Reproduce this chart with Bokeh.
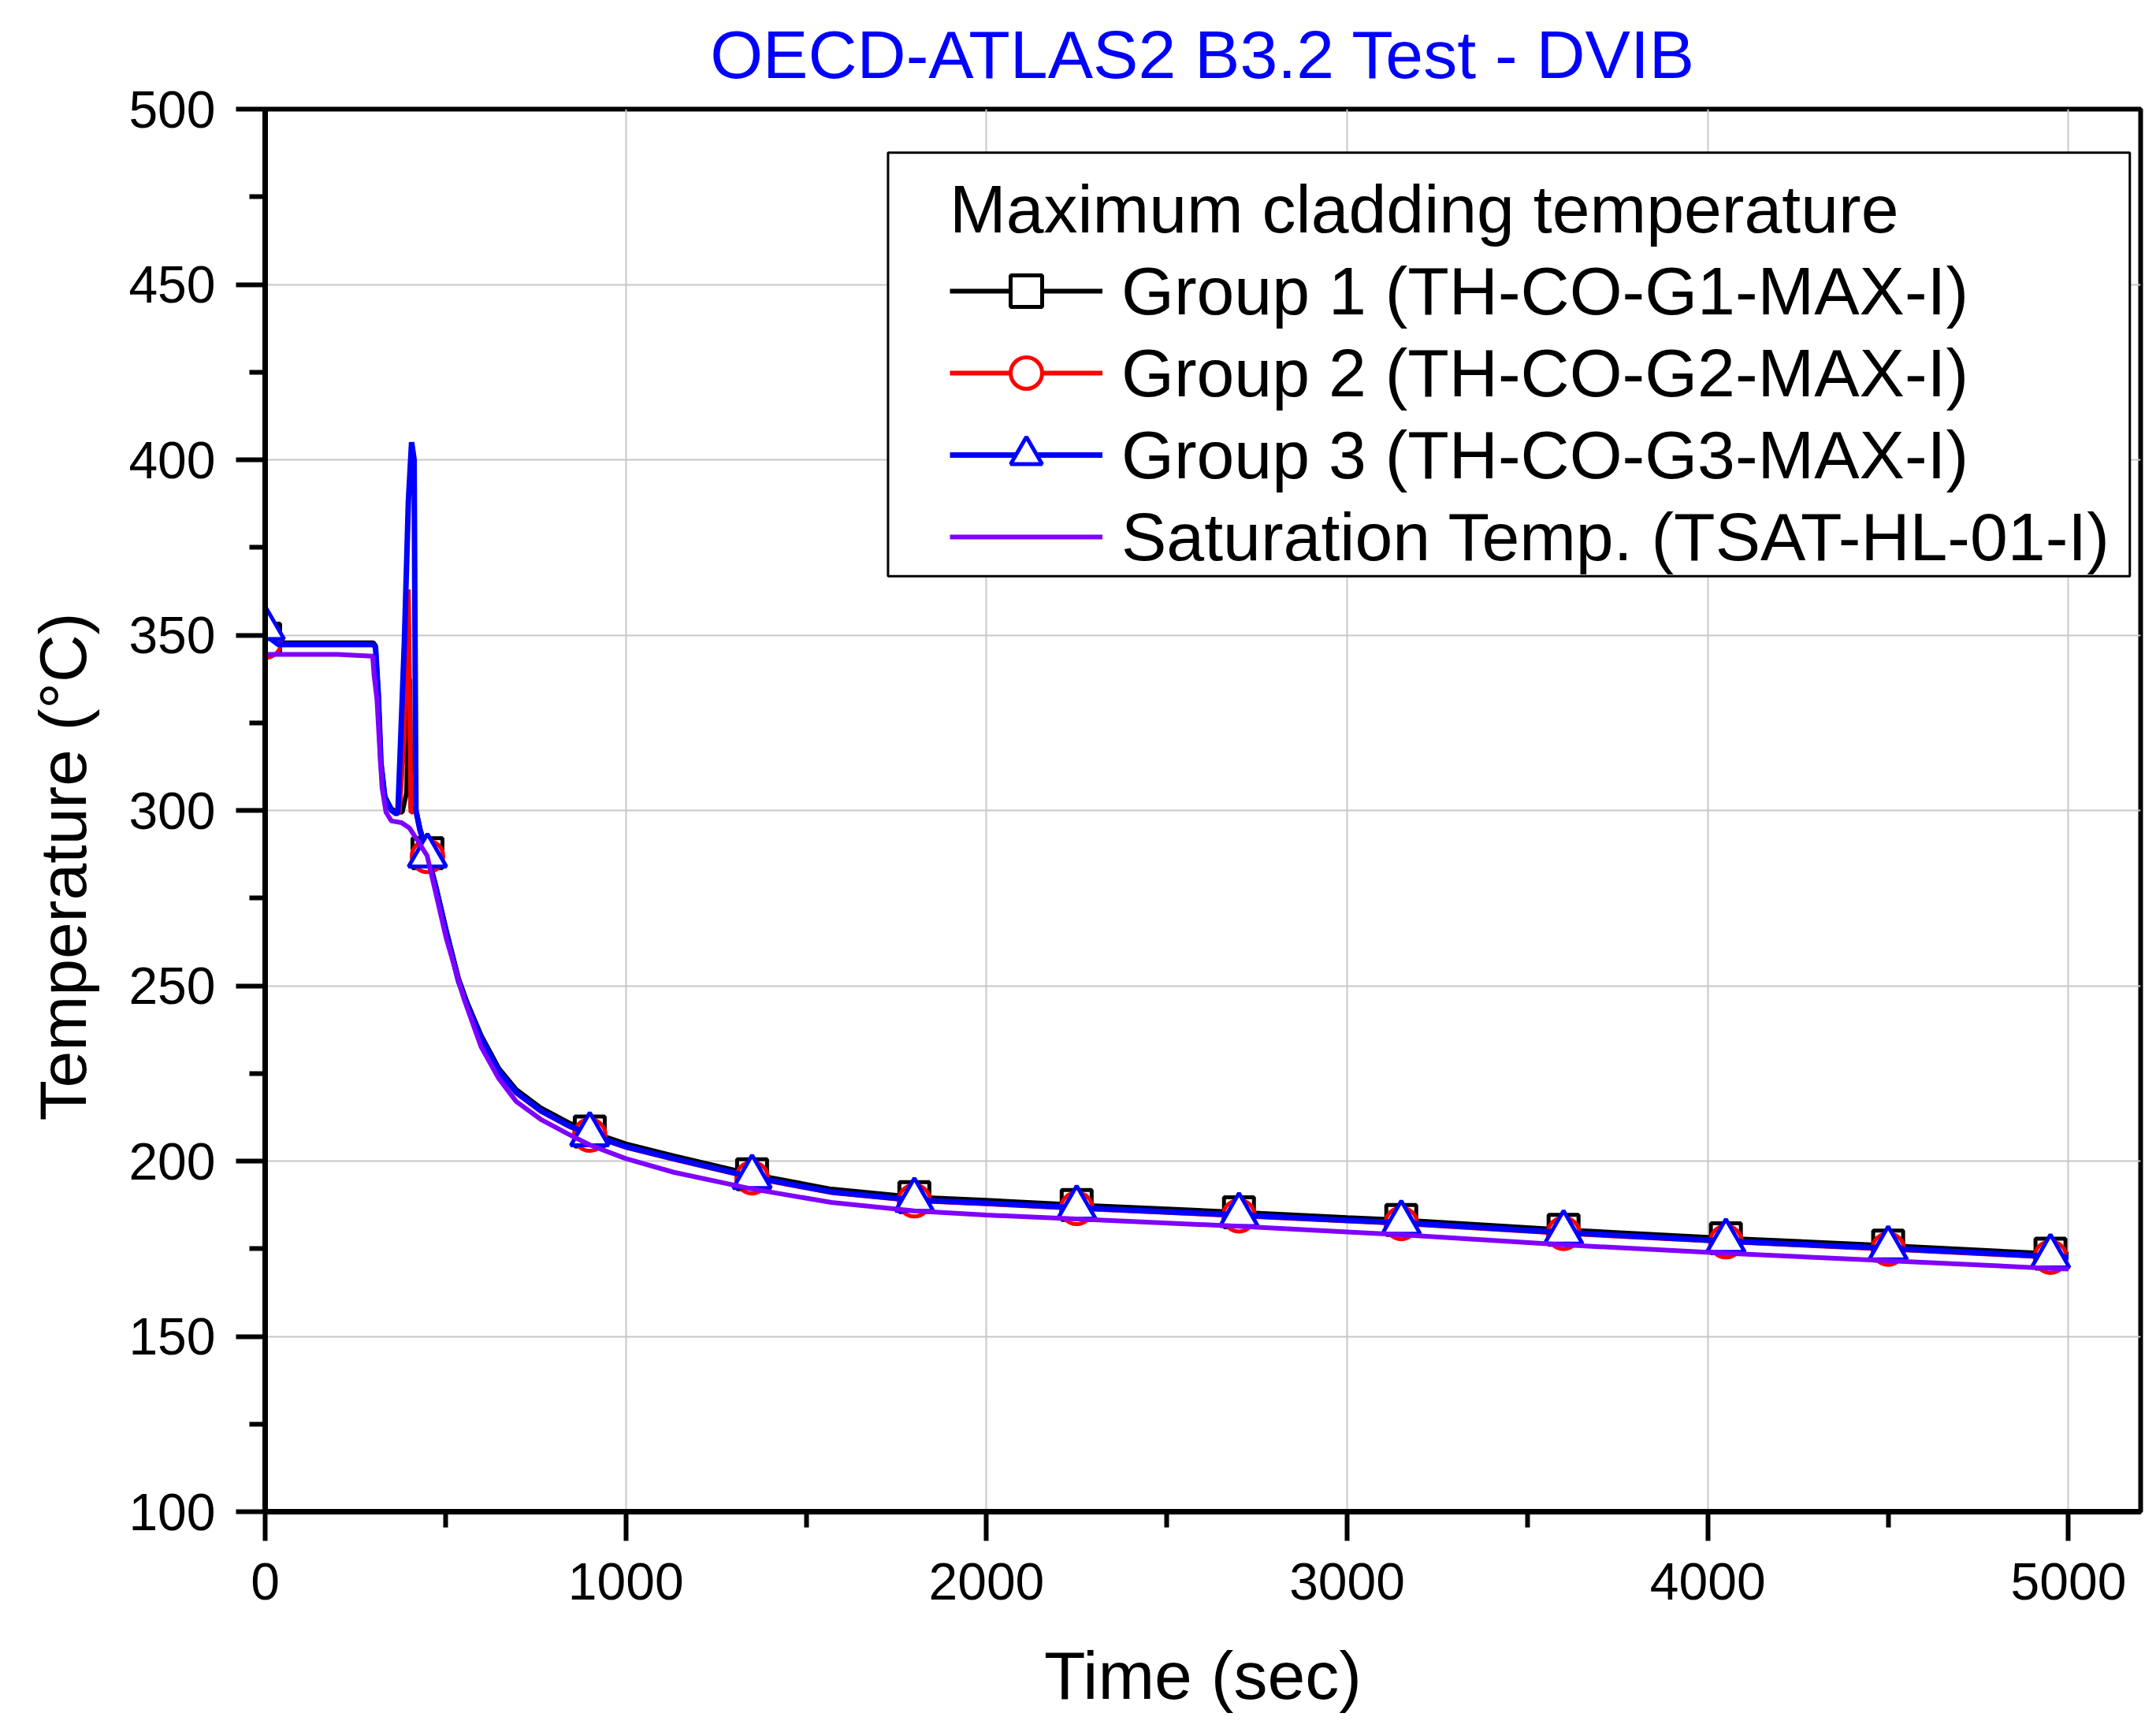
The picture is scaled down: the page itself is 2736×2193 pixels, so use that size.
import numpy as np
from bokeh.plotting import figure
from bokeh.models import Legend, LegendItem, Range1d, FixedTicker, Title, BoxAnnotation
from bokeh.embed import file_html
from bokeh.resources import INLINE

# ---------------- data ----------------
title_text = "OECD-ATLAS2 B3.2 Test - DVIB"
x_label = "Time (sec)"
y_label = "Temperature (°C)"
legend_title = "Maximum cladding temperature"
series_labels = [
    "Group 1 (TH-CO-G1-MAX-I)",
    "Group 2 (TH-CO-G2-MAX-I)",
    "Group 3 (TH-CO-G3-MAX-I)",
    "Saturation Temp. (TSAT-HL-01-I)",
]

x_ticks = [0, 1000, 2000, 3000, 4000, 5000]
x_minor = [500, 1500, 2500, 3500, 4500]
y_ticks = [100, 150, 200, 250, 300, 350, 400, 450, 500]
y_minor = [125, 175, 225, 275, 325, 375, 425, 475]

# Group 1 (black)
g1_t = [0, 15, 37, 100, 200, 300, 306, 314, 321, 332, 350, 364, 380, 392, 398, 401, 404, 418,
        429, 449, 473, 502, 536, 560, 599, 648, 696, 764, 842, 900, 1000, 1133, 1347, 1570,
        1800, 2000, 2250, 2700, 3000, 3150, 3600, 4050, 4500, 4950, 5000]
g1_T = [349, 348, 347.8, 347.8, 347.8, 347.8, 347, 333, 314, 304, 300.5, 299.5, 299.5, 305, 330,
        337.5, 300.5, 300.3, 295, 288.2, 278.7, 266, 252.2, 245.3, 235.8, 226.4, 220.4, 215.2,
        210.9, 208.4, 204.9, 201.5, 196.3, 192, 189.7, 188.8, 187.5, 185.4, 183.9, 183.2, 180.4,
        178, 175.9, 173.6, 173.4]

# Group 2 (red)
g2_t = [0, 15, 37, 100, 200, 300, 306, 314, 321, 332, 350, 364, 372, 385, 393, 397, 401, 404,
        418, 429, 449, 473, 502, 536, 560, 599, 648, 696, 764, 842, 900, 1000, 1133, 1347, 1570,
        1800, 2000, 2250, 2700, 3000, 3150, 3600, 4050, 4500, 4950, 5000]
g2_T = [348, 347.5, 347.3, 347.3, 347.3, 347.3, 346.5, 332.5, 313.5, 303.5, 300, 299, 299.5, 320,
        350, 363, 330, 299.5, 299.8, 294.3, 287.3, 277.8, 265, 251.2, 244.3, 234.8, 225.4, 219.4,
        214.2, 209.9, 207.4, 203.9, 200.5, 195.3, 191, 188.7, 187.8, 186.5, 184.4, 182.9, 182.2,
        179.4, 177, 174.9, 172.6, 172.4]

# Group 3 (blue)
g3_t = [0, 15, 37, 100, 200, 300, 306, 314, 321, 332, 350, 364, 368, 386, 397, 406, 413, 418,
        429, 449, 473, 502, 536, 560, 599, 648, 696, 764, 842, 900, 1000, 1133, 1347, 1570,
        1800, 2000, 2250, 2700, 3000, 3150, 3600, 4050, 4500, 4950, 5000]
g3_T = [352, 349, 347.3, 347.3, 347.3, 347.3, 346.5, 332.5, 313.5, 303.5, 300, 299, 299.5, 348,
        388, 405, 400, 300, 294.5, 287.5, 278, 265.2, 251.4, 244.5, 235, 225.6, 219.6, 214.4,
        210.1, 207.6, 204.1, 200.7, 195.5, 191.2, 188.9, 188, 186.7, 184.6, 183.1, 182.4, 179.6,
        177.2, 175.1, 172.8, 172.6]

# Saturation temperature (violet)
sat_t = [0, 100, 200, 298, 302, 310, 317, 324, 335, 350, 378, 400, 422, 449, 502, 551, 599, 648,
         696, 764, 842, 900, 1000, 1133, 1347, 1570, 1800, 2000, 2250, 2700, 3000, 3150, 3600,
         4050, 4500, 4950, 5000]
sat_T = [344.5, 344.5, 344.5, 344, 338.5, 331.5, 318.5, 306.5, 299.5, 297, 296.5, 295, 291.5,
         287.1, 263.5, 246.3, 232.5, 223.5, 217, 211.9, 207.6, 204.6, 200.7, 196.8, 192.1, 188.2,
         185.8, 184.6, 183.5, 181.4, 179.8, 179.0, 176.1, 173.7, 171.6, 169.4, 169.2]

# symbol positions (every 450 s, as in the reference)
marker_t = [0, 450, 900, 1350, 1800, 2250, 2700, 3150, 3600, 4050, 4500, 4950]

# ---------------- figure ----------------
FONT = "Liberation Sans"
W, H = 2720, 2177
FR_L, FR_T, FR_R, FR_B = 335, 138, 2716, 1918   # frame edges in canvas px
p = figure(width=W, height=H, output_backend="svg", toolbar_location=None,
           x_range=Range1d(0, 5200), y_range=Range1d(100, 500),
           min_border_left=FR_L, min_border_right=W - FR_R, min_border_top=FR_T,
           min_border_bottom=H - FR_B)
p.background_fill_color = "white"
p.border_fill_color = "white"
p.outline_line_color = "black"
p.outline_line_width = 6

p.title.text = title_text
p.title.align = "center"
p.title.vertical_align = "top"
p.title.text_font = FONT
p.title.text_font_size = "86px"
p.title.text_font_style = "normal"
p.title.text_color = "#0000FF"
p.title.standoff = 40

p.xaxis.ticker = FixedTicker(ticks=x_ticks, minor_ticks=x_minor)
p.yaxis.ticker = FixedTicker(ticks=y_ticks, minor_ticks=y_minor)
p.xaxis.axis_label = x_label
for ax in (p.xaxis, p.yaxis):
    ax.axis_line_width = 7
    ax.axis_line_color = "black"
    ax.major_tick_line_width = 6
    ax.minor_tick_line_width = 6
    ax.major_tick_in = 0
    ax.minor_tick_in = 0
    ax.major_tick_out = 37
    ax.minor_tick_out = 20
    ax.major_label_text_font = FONT
    ax.major_label_text_font_size = "66px"
    ax.major_label_text_color = "black"
    ax.axis_label_text_font = FONT
    ax.axis_label_text_font_size = "86px"
    ax.axis_label_text_font_style = "normal"
    ax.axis_label_text_color = "black"
p.yaxis.major_label_standoff = 26
p.xaxis.major_label_standoff = 28
p.xaxis.axis_label_standoff = 45

# y-axis title, a little below the frame centre as in the reference
ytitle = Title(text=y_label, align="left", offset=496, vertical_align="top", standoff=64,
               text_font=FONT, text_font_size="84px", text_font_style="normal",
               text_color="black")
p.add_layout(ytitle, "left")

p.xgrid.grid_line_color = "#C8C8C8"
p.ygrid.grid_line_color = "#C8C8C8"
p.xgrid.grid_line_width = 2
p.ygrid.grid_line_width = 2

colors = ["black", "#FF0000", "#0000FF", "#8000FF"]
widths = [6, 6, 7, 6]
series = [(g1_t, g1_T, "square", 38), (g2_t, g2_T, "circle", 40), (g3_t, g3_T, "triangle", 48)]
items = []
for (t, T, mk, sz), col, lw, lab in zip(series, colors[:3], widths[:3], series_labels[:3]):
    ln = p.line(t, T, line_color=col, line_width=lw)
    mT = np.interp(marker_t, t, T)
    sc = p.scatter(marker_t, mT, marker=mk, size=sz, line_color=col, line_width=5,
                   fill_color="white")
    items.append(LegendItem(label=lab, renderers=[ln, sc]))
ls = p.line(sat_t, sat_T, line_color=colors[3], line_width=widths[3])
items.append(LegendItem(label=series_labels[3], renderers=[ls]))

# legend frame (Origin-style box with a wide left margin)
box = BoxAnnotation(left=1727, right=5170, top=487.6, bottom=366.8,
                    fill_color="white", fill_alpha=1.0, line_color="black", line_width=3,
                    line_alpha=1.0)
p.add_layout(box)

legend = Legend(items=items, title=legend_title, location=(849, 1167))
legend.title_text_font = FONT
legend.title_text_font_size = "86px"
legend.title_text_font_style = "normal"
legend.title_text_color = "black"
legend.title_standoff = 4
legend.label_text_font = FONT
legend.label_text_font_size = "86px"
legend.label_text_color = "black"
legend.glyph_width = 194
legend.glyph_height = 100
legend.label_height = 100
legend.label_standoff = 24
legend.spacing = 4
legend.padding = 20
legend.margin = 0
legend.border_line_alpha = 0
legend.background_fill_alpha = 0
p.add_layout(legend)

open("out.html", "w").write(file_html(p, INLINE))
